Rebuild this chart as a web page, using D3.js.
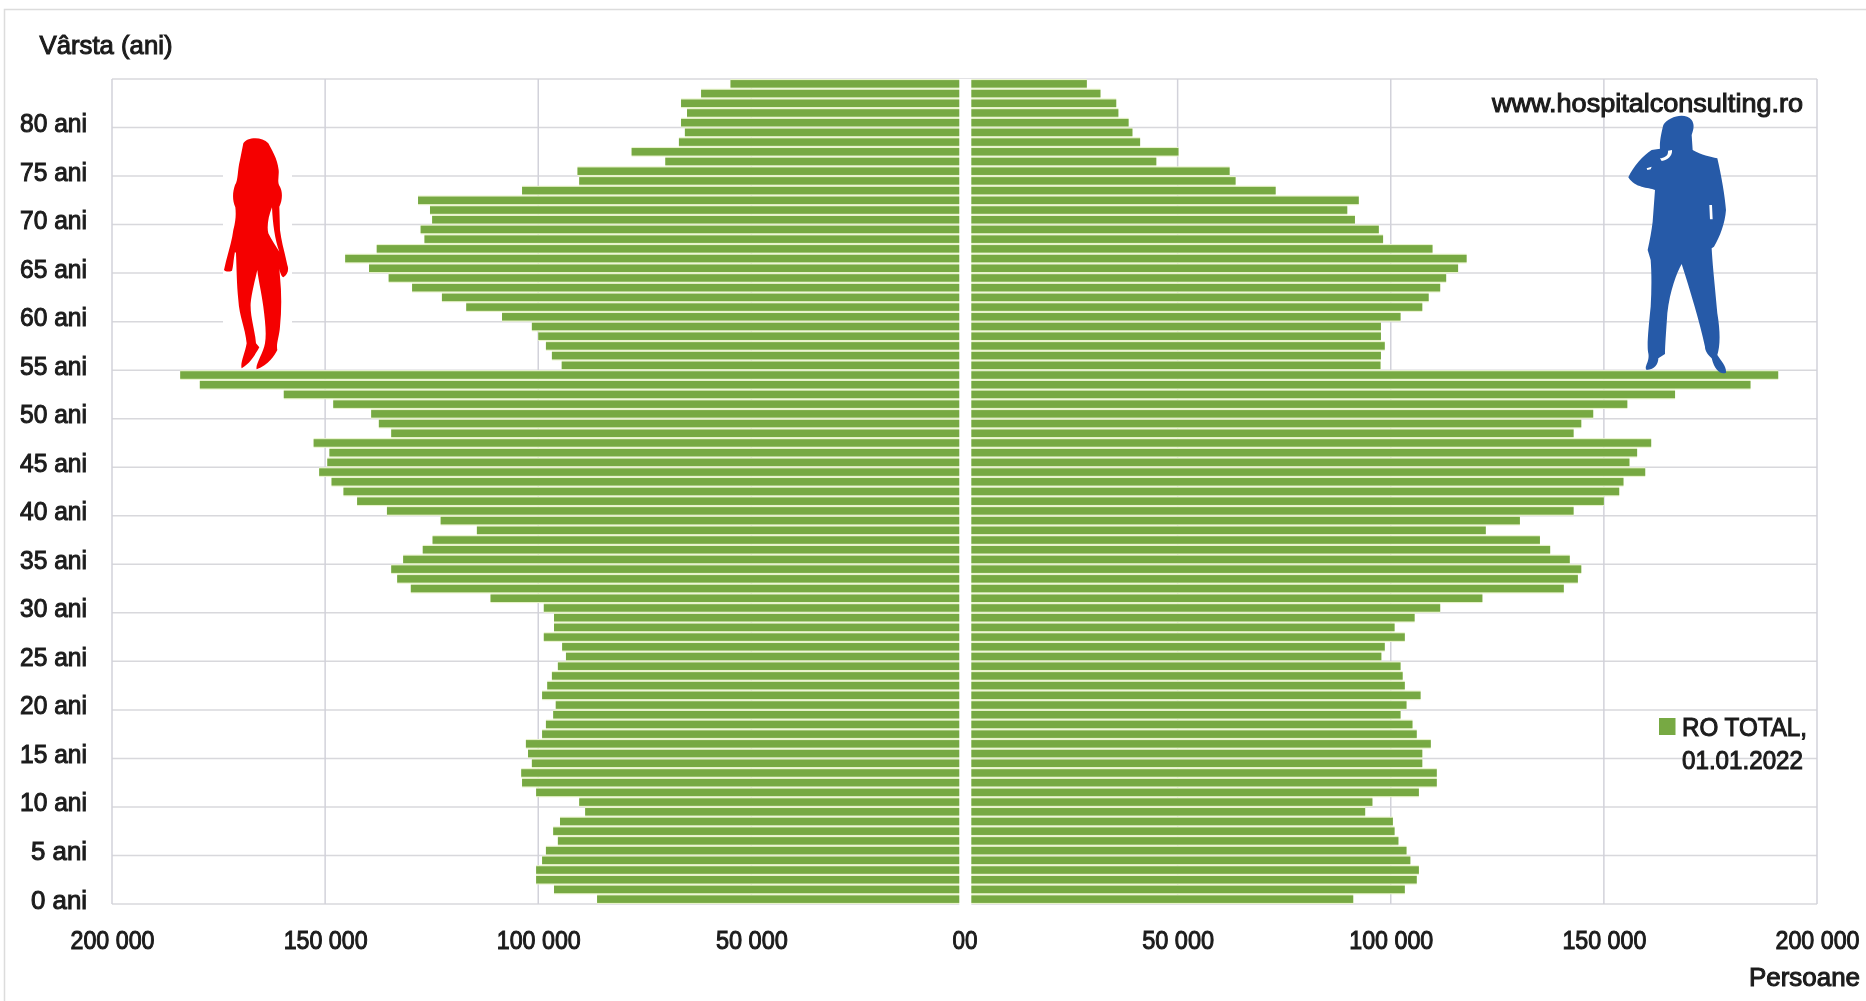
<!DOCTYPE html>
<html><head><meta charset="utf-8">
<script src="https://cdn.jsdelivr.net/npm/d3@7"></script>
<style>
html,body{margin:0;padding:0;background:#fff;overflow:hidden}
svg{display:block;filter:blur(0.45px)}
text{font-family:"Liberation Sans",Arial,sans-serif;fill:#1c1c1c;stroke:#1c1c1c;stroke-width:1.05px}
</style></head><body>
<svg id="c" width="1866" height="1001"></svg>
<script>
const ages = d3.range(0, 85);
const femei = [86200,96300,100500,100500,99100,98200,95400,96500,94900,89000,90400,100500,103800,104000,101500,102400,102900,99100,98200,96500,95900,99100,97900,96800,95400,93500,94400,98700,96300,96300,98700,111200,129900,133100,134500,131700,127100,124800,114400,122900,135500,142500,145700,148500,151400,149500,149000,152700,134500,137400,139200,148100,159700,179400,184000,94500,96800,98200,100000,101500,108500,116900,122600,129600,135100,139700,145300,137900,126700,127600,124900,125400,128200,103800,90400,90800,70200,78100,67000,65600,66500,65100,66500,61800,54900];
const barbati = [91200,103300,106100,106600,104600,103700,101800,100900,100500,94000,95700,106600,110800,110800,107400,107400,109400,106100,105100,102300,103700,107000,103300,102800,102300,97800,98600,103300,100900,105600,111600,121500,140600,143900,144700,142000,137400,135000,122300,130300,142900,150000,153600,154600,159700,156000,157800,161100,142900,144700,147500,155500,166700,184400,190900,97600,97700,98600,97700,97700,102300,107400,108900,111600,113000,115800,117800,109800,98200,97200,91600,89800,92500,73000,63600,62200,45000,50200,41200,39400,38500,36100,35600,31900,28700];
const xTicks = [-200000,-150000,-100000,-50000,0,50000,100000,150000,200000];
const yTicks = d3.range(0, 85, 5);

const svg = d3.select('#c');
const x = d3.scaleLinear().domain([-200000,200000]).range([112,1817]);
const y = d3.scaleBand().domain(ages).range([904,79]);
const bw = y.bandwidth();
const top0 = 79, bot = 904;
const fmt = v => { const a = Math.abs(v); return a === 0 ? '00' : d3.format(',')(a).replace(/,/g,' '); };

// outer frame
svg.append('path').attr('d','M4.5,1001V9.5H1866').attr('fill','none').attr('stroke','#dcdcdc').attr('stroke-width',1.5);

// grid
const gridH = svg.append('g').attr('stroke','#d8d8dc').attr('stroke-width',1.5);
[...yTicks,85].forEach(a => {
  const yy = a === 85 ? top0 : y(a) + bw;
  gridH.append('line').attr('x1',x.range()[0]).attr('x2',x.range()[1]).attr('y1',yy).attr('y2',yy);
});
const gridV = svg.append('g').attr('stroke','#d2d2da').attr('stroke-width',1.5);
xTicks.filter(v=>v!==0).forEach(v => gridV.append('line').attr('x1',x(v)).attr('x2',x(v)).attr('y1',top0).attr('y2',bot));

// white halo behind the female figure
svg.append('rect').attr('x',223).attr('y',130).attr('width',69).attr('height',238).attr('fill','#fff');

// pale band between bars, then bars
const rows = ages.map((a,i)=>({a,f:femei[i],b:barbati[i]}));
const under = svg.append('g').attr('fill','#e8f3cc');
under.selectAll('rect.f').data(rows).join('rect').attr('class','f')
  .attr('x',d=>x(-d.f)).attr('width',d=>x(0)-x(-d.f)).attr('y',d=>y(d.a)).attr('height',bw);
under.selectAll('rect.b').data(rows).join('rect').attr('class','b')
  .attr('x',x(0)).attr('width',d=>x(d.b)-x(0)).attr('y',d=>y(d.a)).attr('height',bw);
const bars = svg.append('g').attr('fill','#77a943');
const bh = 7.5, off = (bw-bh)/2;
bars.selectAll('rect.f').data(rows).join('rect').attr('class','f')
  .attr('x',d=>x(-d.f)).attr('width',d=>x(0)-x(-d.f)).attr('y',d=>y(d.a)+off).attr('height',bh);
bars.selectAll('rect.b').data(rows).join('rect').attr('class','b')
  .attr('x',x(0)).attr('width',d=>x(d.b)-x(0)).attr('y',d=>y(d.a)+off).attr('height',bh);

// white gap in the middle
svg.append('rect').attr('x',959.3).attr('y',top0).attr('width',12).attr('height',bot-top0+1).attr('fill','#fff');

// axes
const ax = svg.append('g').attr('transform',`translate(0,${bot})`).call(
  d3.axisBottom(x).tickValues(xTicks).tickFormat(fmt).tickSize(0));
ax.select('.domain').remove();
ax.selectAll('text').attr('y',36).attr('dy','.36em').attr('font-size',26)
  .attr('textLength',function(d){return d===0?25:(Math.abs(d)>=100000?84:72);})
  .attr('lengthAdjust','spacingAndGlyphs');

const ay = svg.append('g').attr('transform','translate(87,0)').call(
  d3.axisLeft(y).tickValues(yTicks).tickFormat(d=>d+' ani').tickSize(0));
ay.select('.domain').remove();
ay.selectAll('text').attr('x',0).attr('dy','.36em').attr('font-size',26).attr('text-anchor','end')
  .attr('textLength',d=>d===0||d===5?56:67).attr('lengthAdjust','spacingAndGlyphs');

// free text
function label(t,x0,yc,w,size){
  return svg.append('text').attr('x',x0).attr('y',yc).attr('dy','.36em').attr('font-size',size||26)
    .attr('textLength',w).attr('lengthAdjust','spacingAndGlyphs').text(t);
}
label('Vârsta (ani)',39.5,45,133);
label('Persoane',1749,977,111);
label('www.hospitalconsulting.ro',1492,103,311);
label('RO TOTAL,',1682,727,125);
label('01.01.2022',1682,760,121);
svg.append('rect').attr('x',1659).attr('y',718).attr('width',16.5).attr('height',17).attr('fill','#77a943');

// silhouettes
svg.append('path').attr('transform','translate(200,120) scale(0.3333)').attr('fill','#f50000').attr('fill-rule','evenodd')
 .attr('d','M130,70C140,52 185,48 205,70C215,90 232,115 236,150C238,170 230,185 240,200C248,215 248,240 238,260L240,330C245,370 255,400 262,435C268,450 262,465 250,472C245,470 240,460 238,445L240,470C245,520 245,570 240,620C238,650 228,670 232,690C225,705 205,735 170,748C165,735 190,700 195,670C200,640 195,600 190,560C185,520 175,480 172,450C165,480 155,520 152,550C150,590 165,630 168,670L178,682C165,705 150,730 125,745C120,730 135,700 140,670C135,620 118,590 115,540C110,490 110,450 108,400L105,395C100,420 100,440 96,452C88,456 78,456 72,450C80,410 95,370 100,330C108,300 108,280 106,262C96,240 98,215 105,195C115,180 112,150 120,120ZM216,262C205,290 200,320 205,340C215,360 228,380 238,395C225,360 218,310 216,262Z');
svg.append('path').attr('transform','translate(1610,100) scale(0.3333)').attr('fill','#265aa8').attr('fill-rule','evenodd')
 .attr('d','M160,75C175,50 225,35 245,60C255,75 250,90 245,105L248,150C275,165 300,170 322,175C335,230 345,290 348,330C345,370 330,410 312,440L305,445C308,500 315,560 322,640C332,700 330,740 322,765C335,785 350,800 348,818C335,825 315,815 305,775C290,760 285,750 285,740C270,670 240,570 215,492C200,520 180,570 172,640C168,700 165,740 165,762L145,775C145,790 135,810 110,810C100,802 120,785 115,760C110,740 115,690 122,620C125,570 125,520 122,480L113,450C120,420 125,390 128,365L135,270C115,262 75,265 55,232C70,200 100,165 125,150L150,146C148,125 155,95 160,75ZM174,152L186,150C188,165 175,180 155,183L150,175C162,173 176,168 174,152ZM110,205L125,200L122,208L112,210ZM298,315L306,315L308,358L300,358Z');
</script>
</body></html>
